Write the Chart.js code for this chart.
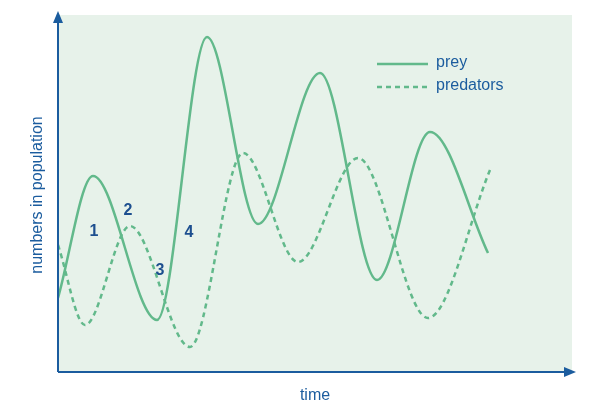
<!DOCTYPE html>
<html>
<head>
<meta charset="utf-8">
<script src="https://cdn.jsdelivr.net/npm/chart.js@4"></script>
<style>
  html, body { margin: 0; padding: 0; background: #fff; }
  #wrap { width: 607px; height: 409px; }
</style>
</head>
<body>
<div id="wrap"><canvas id="grafico"></canvas></div>
<script>
// valores (tiempo, poblacion)
const tiempoPresas = [0, 35, 99, 149, 200, 262, 319, 372, 430];
const presas = [74, 196, 52, 335, 148, 299, 92, 240, 119];
const tiempoDepredadores = [0, 27, 72, 132, 185, 240, 300, 370, 432];
const depredadores = [127, 47, 146, 25, 219, 110, 214, 54, 202];
const etiquetasNumeros = [
  { texto: '1', t: 36, y: 140 },
  { texto: '2', t: 70, y: 161 },
  { texto: '3', t: 102, y: 101 },
  { texto: '4', t: 131, y: 139 }
];

const verde = '#62b98b';
const azul = '#1b5c9e';

function puntos(ts, vs) {
  return ts.map((t, i) => ({ x: t, y: vs[i] }));
}

// fondo, ejes con flechas, leyenda y textos
const decoracion = {
  id: 'decoracion',
  beforeDraw(chart) {
    const c = chart.ctx, a = chart.chartArea;
    c.save();
    c.fillStyle = '#e7f2ea';
    c.fillRect(a.left, a.top, a.right - a.left, a.bottom - a.top);
    c.restore();
  },
  afterDraw(chart) {
    const c = chart.ctx, a = chart.chartArea;
    const sx = chart.scales.x, sy = chart.scales.y;
    c.save();
    c.strokeStyle = azul;
    c.fillStyle = azul;
    c.lineWidth = 2;
    c.beginPath();
    c.moveTo(a.left, a.bottom);
    c.lineTo(a.left, a.top + 4);
    c.moveTo(a.left, a.bottom);
    c.lineTo(a.right, a.bottom);
    c.stroke();
    // flechas
    c.beginPath();
    c.moveTo(a.left, a.top - 4);
    c.lineTo(a.left - 5, a.top + 8);
    c.lineTo(a.left + 5, a.top + 8);
    c.fill();
    c.beginPath();
    c.moveTo(a.right + 4, a.bottom);
    c.lineTo(a.right - 8, a.bottom - 5);
    c.lineTo(a.right - 8, a.bottom + 5);
    c.fill();

    // titulos de ejes
    c.font = '300 16px "Liberation Sans", Arial, sans-serif';
    c.textAlign = 'center';
    c.textBaseline = 'middle';
    c.fillText('time', (a.left + a.right) / 2, 396);
    c.save();
    c.translate(38, 195);
    c.rotate(-Math.PI / 2);
    c.fillText('numbers in population', 0, 0);
    c.restore();

    // leyenda
    c.strokeStyle = verde;
    c.lineWidth = 2.5;
    c.beginPath();
    c.moveTo(377, 64); c.lineTo(428, 64);
    c.stroke();
    c.setLineDash([5, 4]);
    c.beginPath();
    c.moveTo(377, 87); c.lineTo(428, 87);
    c.stroke();
    c.setLineDash([]);
    c.textAlign = 'left';
    c.fillStyle = azul;
    c.font = '16px "Liberation Sans", Arial, sans-serif';
    c.fillText('prey', 436, 63);
    c.fillText('predators', 436, 86);

    // numeros
    c.font = 'bold 16px "Liberation Sans", Arial, sans-serif';
    c.textAlign = 'center';
    c.fillStyle = '#1d4f8f';
    etiquetasNumeros.forEach(e => {
      c.fillText(e.texto, sx.getPixelForValue(e.t), sy.getPixelForValue(e.y));
    });
    c.restore();
  }
};

new Chart(document.getElementById('grafico'), {
  type: 'line',
  data: {
    datasets: [
      {
        label: 'prey',
        data: puntos(tiempoPresas, presas),
        borderColor: verde,
        borderWidth: 2.5,
        pointRadius: 0,
        cubicInterpolationMode: 'monotone',
        fill: false
      },
      {
        label: 'predators',
        data: puntos(tiempoDepredadores, depredadores),
        borderColor: verde,
        borderWidth: 2.5,
        borderDash: [5, 4],
        pointRadius: 0,
        cubicInterpolationMode: 'monotone',
        fill: false
      }
    ]
  },
  options: {
    responsive: true,
    maintainAspectRatio: false,
    animation: false,
    layout: { padding: { left: 58, right: 35, top: 15, bottom: 37 } },
    scales: {
      x: { type: 'linear', min: 0, max: 514, display: false },
      y: { min: 0, max: 357, display: false }
    },
    plugins: {
      legend: { display: false },
      tooltip: { enabled: false }
    }
  },
  plugins: [decoracion]
});
</script>
</body>
</html>
